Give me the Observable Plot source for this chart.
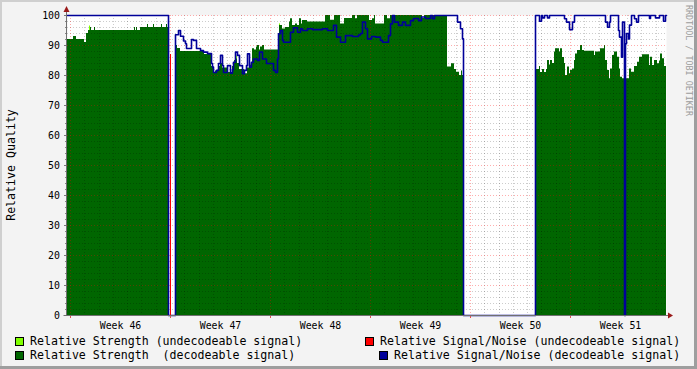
<!DOCTYPE html>
<html><head><meta charset="utf-8">
<script src="https://cdn.jsdelivr.net/npm/d3@7"></script>
<script src="https://cdn.jsdelivr.net/npm/@observablehq/plot@0.6"></script>
<style>
html,body{margin:0;padding:0;background:#f3f3f3;}
#wrap{position:relative;width:697px;height:369px;background:#f3f3f3;overflow:hidden;font-family:"DejaVu Sans Mono",monospace;color:#000;}
#chart{position:absolute;left:0;top:0;}
.b{position:absolute;}
.lg{position:absolute;font-size:11.6px;line-height:14px;white-space:pre;}
.sw{position:absolute;width:7px;height:7px;border:1px solid #000;}
#ytitle{position:absolute;left:11px;top:165px;font-size:11.6px;line-height:14px;white-space:pre;transform:translate(-50%,-50%) rotate(-90deg);}
#wm{position:absolute;left:684px;top:5px;font-size:8.4px;line-height:10px;writing-mode:vertical-rl;white-space:pre;color:#9c9c9c;}
</style></head><body>
<div id="wrap">
  <div id="chart"></div>
  <div class="b" style="left:0;top:0;width:697px;height:2px;background:#cfcfcf"></div>
  <div class="b" style="left:0;top:0;width:2px;height:369px;background:#cfcfcf"></div>
  <div class="b" style="left:0;top:366px;width:697px;height:3px;background:#9e9e9e"></div>
  <div class="b" style="left:694px;top:0;width:3px;height:369px;background:#9e9e9e"></div>
  <div id="ytitle"></div>
  <div id="wm"></div>
  <div id="legend"></div>
</div>
<script>
// ---- data (x = days since start of Week 46, y = relative quality %) ----
const weekLabels = ["Week 46","Week 47","Week 48","Week 49","Week 50","Week 51"];
const weekStarts = [0, 7, 14, 21, 28, 35];
const xDomain = [-0.21, 41.72];

// Relative Strength (decodeable signal)
const strengthT = [-0.21,0.21,0.39,0.98,1.09,1.26,1.37,1.44,1.68,1.75,4.48,4.55,4.62,4.69,4.9,5.39,5.46,5.81,5.88,6.37,6.44,6.72,6.79,6.86,
 7.35,7.49,7.7,9.38,9.87,10.01,10.15,10.36,10.5,10.64,10.99,11.34,11.48,11.59,11.69,11.83,12.18,12.39,12.53,12.74,12.88,12.99,13.09,13.23,13.3,13.44,13.58,
 14.56,14.65,14.84,15.05,15.31,15.42,15.54,15.75,15.89,16.01,16.15,16.24,16.59,17.85,18.2,18.48,18.9,19.18,19.74,19.95,20.09,20.93,21.14,21.28,21.35,21.98,22.19,22.4,24.64,24.78,
 26.39,26.67,26.88,27.04,27.21,27.35,27.44,27.51,
 32.57,32.83,32.92,33.04,33.18,33.32,33.39,33.51,33.62,33.74,33.86,33.97,34.21,34.32,34.44,34.56,34.67,34.79,34.91,35.02,35.14,35.26,35.37,35.49,35.72,35.84,35.96,
 36.66,36.77,37.12,37.36,37.47,37.59,37.71,37.82,37.94,38.06,38.29,38.41,38.52,38.64,38.76,38.92,39.15,39.29,39.46,39.69,39.85,40.04,40.51,40.62,40.74,40.86,41.09,41.21,41.32,41.44,41.56,41.72];
const strengthV = [92,93,92,91,94,95,96,95,96,95,96,95,96,95,96,97,96,97,96,97,96,97,96,0,
 90,89,88,87,83,81,81.5,83,84,82.5,81,83,85,85.5,84,82,80.6,82.5,83.5,88.9,88.5,89.5,90,88.5,89.5,90,88.5,
 93.3,96.7,95.5,96,97.8,98.9,96.7,97.2,96.7,98.9,97.2,98.3,97.8,100,98.4,100,97.2,99,100,98.9,100,98.3,98.9,100,97.2,100,98.9,100,99,100,
 82.8,83.9,82,81.1,80,81.5,80,0,
 82,83,81,82,81,82,85,83.5,85,84,87.8,88.9,87.8,88.9,86,84,80,82.8,80.6,81.7,82.2,85,87.2,88.3,90,88.3,88.1,
 86.7,87.8,88.9,90,85,81.7,78.9,82.2,86.7,87.8,86.1,82.2,79.4,78.9,81.1,78.9,82.2,81.1,83,84.4,86.1,86.9,83.3,86.1,83.3,85,83.9,84.8,87.2,85.6,83,83];

// Relative Strength (undecodeable signal) - only visible where above decodeable
const weakT = [1.34, 11.62, 14.62];
const weakV = [96.5, 86.5, 97.2];

// Relative Signal/Noise (decodeable signal)
const snrT = [-0.21,6.86,
 7.35,7.56,7.7,7.91,8.05,8.12,8.45,8.61,8.82,9.1,9.31,9.59,9.87,9.94,10.03,10.22,10.38,10.5,10.62,10.73,10.97,11.2,11.32,11.43,11.55,11.71,11.85,12.02,12.18,12.32,12.41,12.55,12.65,12.79,13.07,13.25,13.42,13.72,14.0,14.23,14.35,14.47,
 14.58,14.7,14.82,14.93,15.4,15.63,15.87,16.1,16.24,16.59,16.94,17.64,17.99,18.41,18.62,18.9,19.25,19.74,20.16,20.3,20.44,20.65,20.79,21.07,21.35,21.7,21.84,22.26,22.4,22.54,22.65,22.96,23.24,23.45,23.8,24.01,24.36,24.57,24.85,25.2,25.34,25.48,27.09,27.3,27.44,27.51,
 32.57,32.81,32.97,33.04,33.15,33.39,33.55,34.56,34.7,34.91,35.14,35.26,37.47,37.59,37.71,37.82,38.36,38.45,38.55,38.64,38.76,38.83,38.92,39.06,39.15,39.29,39.48,39.62,39.76,40.51,40.62,40.97,41.2,41.51,41.65,41.72];
const snrV = [100,0,
 93.6,95,93.1,91.5,90.6,89,92,91.7,89,88.3,87.8,87.3,84,82.8,81,81.7,84,86.7,83.3,81,83.3,80.8,82,84.4,87.8,86.7,83.3,80.6,81.7,83.3,87.2,82.8,84.4,85.5,85,87.8,85.5,84,84,81.7,81,85.5,
 93.9,95,91.7,91.1,94.4,95.9,94.4,95.6,95,95.6,95.3,95.6,95,96.7,92.8,91.1,93.3,93,93.5,94,97.8,95.6,92.2,93,92.8,91.7,91.1,93.3,97.2,100,97.8,96.7,97.8,96.7,98.3,99,98.3,99.5,99,100,98.9,100,97.8,95.6,92.2,0,
 100,98.1,100,99.2,100,99.2,100,98.9,97.8,95.3,97.8,100,97.8,96.1,97.8,100,95,92.8,86.1,97.8,0,90.6,94,92.2,96.8,100,98.9,97.8,100,99,100,99.2,100,98.1,100,100];

// Relative Signal/Noise (undecodeable signal)
const snrBadT = [7.0];
const snrBadV = [87];

const yMajor = d3.range(0, 101, 10);
const yMinor = d3.range(2, 100, 2).filter(v => v % 10 !== 0);
const dayLines = d3.range(0, 42).filter(d => d % 7 !== 0 && d >= xDomain[0] && d <= xDomain[1]);
const weekCenters = weekStarts.map(d => d + 3.5);

const legendItems = [
  {label: "Relative Strength (undecodeable signal)", color: "#80ff00"},
  {label: "Relative Signal/Noise (undecodeable signal)", color: "#ff0000"},
  {label: "Relative Strength  (decodeable signal)", color: "#006600"},
  {label: "Relative Signal/Noise (decodeable signal)", color: "#000099"}
];

// ---- tables ----
const strength = strengthT.map((t, i) => ({t, v: strengthV[i]}));
const weak = weakT.map((t, i) => ({t, v: weakV[i]}));
const snr = snrT.map((t, i) => ({t, v: snrV[i]}));
const snrBad = snrBadT.map((t, i) => ({t, v: snrBadV[i]}));

const minorGrid = {stroke: "#000", strokeOpacity: 0.2, strokeDasharray: "1,2"};
const majorGrid = {stroke: "#ff0000", strokeOpacity: 0.32, strokeDasharray: "1,2"};

const chart = Plot.plot({
  width: 697, height: 332,
  marginLeft: 67, marginRight: 31, marginTop: 15, marginBottom: 17,
  x: {domain: xDomain, round: true},
  y: {domain: [0, 100]},
  style: {fontFamily: "DejaVu Sans Mono", fontSize: "9.9px", background: "transparent", color: "#000", overflow: "visible"},
  marks: [
    Plot.frame({fill: "white", stroke: null}),
    Plot.ruleX(weak, {x: "t", y1: 0, y2: "v", stroke: "#80ff00", strokeWidth: 1}),
    Plot.areaY(strength, {x: "t", y: "v", curve: "step-after", fill: "#006600"}),
    Plot.ruleY(yMinor, minorGrid),
    Plot.ruleX(dayLines, minorGrid),
    Plot.ruleY(yMajor.filter(v => v > 0), majorGrid),
    Plot.ruleX(weekStarts, majorGrid),
    Plot.lineY(snr, {x: "t", y: "v", curve: "step-after", stroke: "#000099", strokeWidth: 1.6}),
    Plot.ruleX(snrBad, {x: "t", y1: 0, y2: "v", stroke: "#ff0000", strokeWidth: 1}),
    Plot.axisY(yMinor, {tickSize: 2, stroke: "#888", tickFormat: () => "", label: null}),
    Plot.axisY(yMajor, {tickSize: 3, tickPadding: 4.5, stroke: "#777", fill: "#000", tickFormat: d => String(d), label: null}),
    Plot.axisX(weekStarts, {tickSize: 3, stroke: "#e05050", tickFormat: () => "", label: null}),
    Plot.axisX(weekCenters, {tickSize: 0, tickPadding: 6, fill: "#000", tickFormat: (d, i) => weekLabels[i], label: null})
  ]
});
document.getElementById("chart").appendChild(chart);

// axis lines and arrows, positioned through the plot's scales
const sx = chart.scale("x"), sy = chart.scale("y");
const svg = d3.select(chart);
const xl = Math.round(sx.apply(xDomain[0])) - 0.5;
const xr = sx.apply(xDomain[1]);
const yb = Math.round(sy.apply(0)) + 0.5;
const yt = sy.apply(100);
const g = svg.append("g");
g.append("line").attr("x1", xl).attr("x2", xl).attr("y1", yb).attr("y2", yt - 6).attr("stroke", "#707070");
g.append("line").attr("x1", xl - 3).attr("x2", xr + 3).attr("y1", yb).attr("y2", yb).attr("stroke", "#707070");
g.append("path").attr("d", `M${xl},${yt - 9}L${xl + 3},${yt - 3}L${xl - 3},${yt - 3}Z`).attr("fill", "#9a1a1a");
g.append("path").attr("d", `M${xr + 7},${yb}L${xr + 2},${yb - 3}L${xr + 2},${yb + 3}Z`).attr("fill", "#9a1a1a");

// text outside the svg
document.getElementById("ytitle").textContent = "Relative Quality";
document.getElementById("wm").textContent = "RRDTOOL / TOBI OETIKER";
const lg = document.getElementById("legend");
const pos = [
  {sx: 15, tx: 30, top: 337},
  {sx: 365, tx: 380, top: 337},
  {sx: 15, tx: 30, top: 351},
  {sx: 379, tx: 394, top: 351}
];
legendItems.forEach((it, i) => {
  const p = pos[i];
  const s = document.createElement("div");
  s.className = "sw"; s.style.left = p.sx + "px"; s.style.top = p.top + "px"; s.style.background = it.color;
  lg.appendChild(s);
  const t = document.createElement("div");
  t.className = "lg"; t.style.left = p.tx + "px"; t.style.top = (p.top - 3) + "px"; t.textContent = it.label;
  lg.appendChild(t);
});
</script>
</body></html>
